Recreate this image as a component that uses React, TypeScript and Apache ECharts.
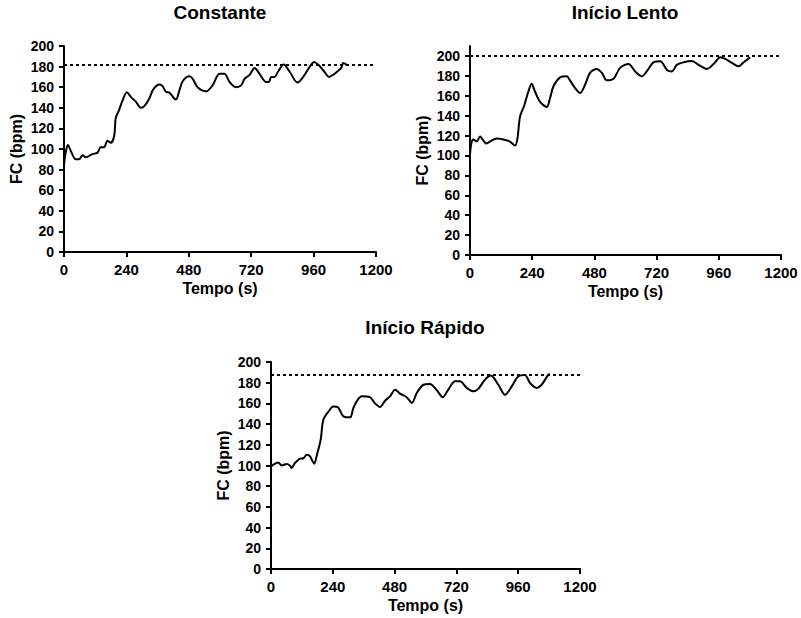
import React, { useEffect, useRef } from "react";
import * as echarts from "echarts";

const titles = ["Constante", "Início Lento", "Início Rápido"];
const xTicks = [0, 240, 480, 720, 960, 1200];
const yTicks = [0, 20, 40, 60, 80, 100, 120, 140, 160, 180, 200];
const targetHR = [182, 200, 188];

// Constante: [tempo (s), FC (bpm)]
const constante: [number, number][] = [
  [0, 84], [6, 96], [15, 104], [28, 97], [45, 90], [58, 90], [71, 94], [84, 92],
  [109, 95], [129, 96.5], [141, 101.6], [154, 101.6], [167, 108], [180, 106],
  [193, 112.6], [199, 130], [212, 138], [225, 147], [242, 155], [257, 150.6],
  [276, 146], [296, 140], [309, 141.6], [328, 149], [343, 157.7], [367, 162.6],
  [379, 161], [392, 155.5], [405, 154.8], [424, 149], [431, 148], [444, 157],
  [457, 166], [482, 170.6], [495, 168], [514, 160], [547, 156], [572, 162],
  [598, 173], [617, 173], [637, 165], [662, 160], [682, 162], [695, 168.4],
  [714, 172], [733, 178.7], [752, 173], [778, 165], [788, 165], [797, 170],
  [810, 170], [823, 175], [845, 182], [868, 175], [898, 164.5], [920, 170],
  [945, 179.7], [962, 184.5], [977, 182], [997, 176.5], [1020, 170], [1035, 172],
  [1055, 176], [1067, 179], [1074, 183.5], [1087, 182],
];

// Início Lento
const inicioLento: [number, number][] = [
  [0, 100.7], [5, 112], [13, 116], [26, 114], [39, 119], [49, 116], [62, 112],
  [77, 114], [103, 117], [129, 116], [154, 114], [174, 110], [183, 117],
  [193, 139], [209, 150], [225, 164], [238, 172], [251, 164], [270, 154],
  [296, 148.7], [309, 157.7], [322, 169.5], [348, 178.5], [373, 179.5],
  [386, 175.5], [399, 170], [425, 162.8], [444, 171], [463, 183], [489, 187],
  [509, 183], [528, 175.5], [554, 177], [579, 188], [612, 192], [637, 184.5],
  [663, 179.5], [682, 184.5], [708, 193.6], [734, 194.6], [760, 186],
  [779, 184.5], [798, 191], [824, 193.6], [856, 195], [882, 191], [914, 187],
  [940, 192], [966, 198.7], [985, 197], [1011, 193], [1036, 189.6],
  [1056, 193.6], [1081, 198.7],
];

// Início Rápido
const inicioRapido: [number, number][] = [
  [0, 98.6], [9, 100.8], [28, 103], [41, 100], [61, 101.4], [74, 99.8],
  [80, 97.6], [93, 102.4], [113, 106.6], [126, 107], [139, 110.5], [151, 109],
  [168, 101.8], [177, 109], [193, 125], [203, 144], [223, 152], [242, 157],
  [261, 156], [281, 147.5], [307, 146.5], [320, 155.6], [333, 162],
  [352, 166.8], [384, 166], [404, 160], [423, 156.5], [443, 162.6],
  [462, 166.8], [482, 173.3], [501, 169.4], [527, 166], [547, 160.4],
  [566, 170], [592, 178], [617, 178.7], [643, 173], [667, 166], [688, 173],
  [715, 181.3], [734, 181.3], [760, 175], [786, 171.7], [805, 174], [831, 183],
  [854, 187], [883, 178], [909, 168.4], [935, 176.5], [960, 186], [986, 187.4],
  [1006, 179.7], [1032, 175], [1051, 178], [1077, 187.8], [1083, 188.4],
];

const seriesData = [constante, inicioLento, inicioRapido];
const yMax = [200, 210, 200];

const FONT = "'Liberation Sans', Arial, sans-serif";

export default function App() {
  const ref = useRef<HTMLDivElement>(null);
  useEffect(() => {
    document.body.style.margin = "0";
    if (!ref.current) return;
    const chart = echarts.init(ref.current, null, { renderer: "svg" });

    const grids = [
      { left: 64, top: 46, width: 312, height: 206 },
      { left: 470, top: 46, width: 311, height: 209 },
      { left: 271, top: 362, width: 309, height: 207 },
    ];
    const titlePos = [
      { x: 220, y: 3 },
      { x: 625, y: 3 },
      { x: 425, y: 318 },
    ];

    const option: any = {
      animation: false,
      backgroundColor: "#fff",
      title: titles.map((t, i) => ({
        text: t,
        left: titlePos[i].x,
        top: titlePos[i].y,
        textAlign: "center",
        padding: 0,
        textStyle: { fontSize: 19, fontWeight: "bold", fontFamily: FONT, color: "#000" },
      })),
      grid: grids.map((g) => ({ ...g, containLabel: false })),
      xAxis: grids.map((_, i) => ({
        type: "value",
        gridIndex: i,
        min: 0,
        max: 1200,
        interval: 240,
        name: "Tempo (s)",
        nameLocation: "middle",
        nameGap: 28,
        nameTextStyle: { fontSize: 16, fontWeight: "bold", fontFamily: FONT, color: "#000" },
        axisLine: { show: true, onZero: false, lineStyle: { color: "#000", width: 2 } },
        axisTick: { show: true, length: 5, lineStyle: { color: "#000", width: 2 }, customValues: xTicks },
        axisLabel: {
          margin: 10, fontSize: 15, fontWeight: "bold", fontFamily: FONT, color: "#000",
          customValues: xTicks, formatter: (v: number) => String(v),
        },
        splitLine: { show: false },
      })),
      yAxis: grids.map((_, i) => ({
        type: "value",
        gridIndex: i,
        min: 0,
        max: yMax[i],
        interval: 20,
        name: "FC (bpm)",
        nameLocation: "middle",
        nameGap: 40,
        nameTextStyle: { fontSize: 16, fontWeight: "bold", fontFamily: FONT, color: "#000" },
        axisLine: { show: true, onZero: false, lineStyle: { color: "#000", width: 2 } },
        axisTick: { show: true, length: 5, lineStyle: { color: "#000", width: 2 }, customValues: yTicks },
        axisLabel: {
          margin: 10, fontSize: 14, fontWeight: "bold", fontFamily: FONT, color: "#000",
          customValues: yTicks, formatter: (v: number) => String(v),
        },
        splitLine: { show: false },
      })),
      series: seriesData.map((d, i) => ({
        type: "line",
        xAxisIndex: i,
        yAxisIndex: i,
        data: d,
        showSymbol: false,
        smooth: 0.3,
        lineStyle: { color: "#000", width: 2 },
        markLine: {
          silent: true,
          symbol: "none",
          label: { show: false },
          lineStyle: { color: "#000", width: 2, type: [3, 3] },
          data: [{ yAxis: targetHR[i] }],
        },
      })),
    };
    chart.setOption(option);
    return () => chart.dispose();
  }, []);
  return <div ref={ref} style={{ width: 801, height: 618 }} />;
}
